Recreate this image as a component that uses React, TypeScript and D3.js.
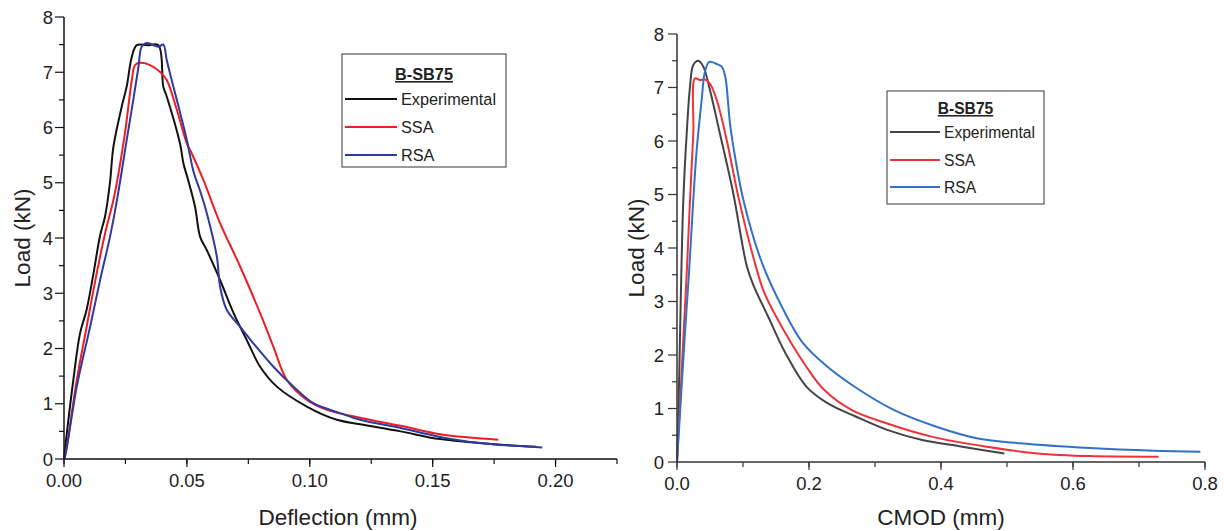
import React from "react";
import * as d3 from "d3";

type P = [number, number];

// Left chart: Load vs Deflection
const leftExperimental: P[] = [[0,0],[0.0015,0.6],[0.0038,1.43],[0.0065,2.27],[0.0092,2.7],[0.012,3.36],[0.0147,4.05],[0.0167,4.39],[0.0187,5.0],[0.0201,5.65],[0.0235,6.38],[0.0255,6.74],[0.0276,7.28],[0.0296,7.49],[0.034,7.49],[0.0384,7.49],[0.0404,6.74],[0.0418,6.56],[0.0472,5.71],[0.0486,5.35],[0.0505,5.05],[0.0533,4.57],[0.0554,4.02],[0.0581,3.78],[0.0635,3.24],[0.069,2.64],[0.0744,2.15],[0.0798,1.67],[0.0866,1.31],[0.0988,0.95],[0.111,0.71],[0.1205,0.63],[0.137,0.5],[0.153,0.36],[0.1775,0.26],[0.192,0.22]];
const leftSSA: P[] = [[0,0],[0.0011,0.22],[0.0052,1.43],[0.0092,2.39],[0.0133,3.36],[0.0167,4.08],[0.0204,4.75],[0.0248,5.9],[0.0276,6.86],[0.0289,7.13],[0.031,7.17],[0.035,7.13],[0.039,7.01],[0.0418,6.86],[0.0459,6.32],[0.05,5.71],[0.052,5.53],[0.0567,5.05],[0.0635,4.27],[0.0717,3.48],[0.0798,2.64],[0.0852,2.03],[0.0907,1.43],[0.0988,1.07],[0.107,0.89],[0.12,0.75],[0.137,0.6],[0.153,0.45],[0.165,0.39],[0.1767,0.35]];
const leftRSA: P[] = [[0,0],[0.0004,0.04],[0.0052,1.31],[0.0106,2.39],[0.0147,3.24],[0.0187,4.02],[0.0218,4.75],[0.0255,5.77],[0.0282,6.5],[0.0303,7.1],[0.0316,7.46],[0.0337,7.53],[0.0364,7.49],[0.0384,7.46],[0.0404,7.5],[0.0418,7.22],[0.0438,6.86],[0.0459,6.5],[0.05,5.77],[0.0527,5.2],[0.0554,4.85],[0.0581,4.45],[0.0622,3.66],[0.0635,3.12],[0.0662,2.7],[0.0717,2.39],[0.0771,2.09],[0.0852,1.67],[0.0934,1.31],[0.1015,1.01],[0.1124,0.83],[0.1205,0.71],[0.137,0.56],[0.153,0.4],[0.169,0.29],[0.1946,0.21]];

// Right chart: Load vs CMOD
const rightExperimental: P[] = [[0,0],[0.002,0.8],[0.004,2.0],[0.0065,3.5],[0.0096,4.9],[0.0147,6.14],[0.0197,7.01],[0.0247,7.42],[0.0323,7.5],[0.0399,7.39],[0.05,6.95],[0.065,6.14],[0.0853,5.02],[0.106,3.65],[0.1167,3.28],[0.138,2.72],[0.1646,2.03],[0.196,1.41],[0.228,1.1],[0.2706,0.85],[0.3185,0.6],[0.3715,0.41],[0.43,0.29],[0.496,0.16]];
const rightSSA: P[] = [[0,0],[0.005,1.2],[0.01,2.4],[0.015,3.6],[0.0197,4.9],[0.0247,6.14],[0.0273,7.17],[0.0348,7.14],[0.0424,7.15],[0.05,7.07],[0.0601,6.77],[0.0753,6.02],[0.0929,4.96],[0.1167,3.78],[0.1327,3.15],[0.1646,2.4],[0.196,1.78],[0.2228,1.35],[0.265,0.97],[0.3185,0.72],[0.387,0.47],[0.467,0.29],[0.5467,0.16],[0.626,0.11],[0.7297,0.1]];
const rightRSA: P[] = [[0,0],[0.006,1.2],[0.012,2.4],[0.018,3.5],[0.0247,4.9],[0.0298,5.83],[0.0374,6.77],[0.0424,7.3],[0.049,7.48],[0.0601,7.44],[0.0677,7.39],[0.0727,7.23],[0.0753,7.01],[0.0803,6.33],[0.0879,5.71],[0.1005,4.9],[0.127,3.78],[0.159,2.9],[0.191,2.22],[0.228,1.78],[0.276,1.35],[0.329,0.97],[0.393,0.66],[0.456,0.44],[0.5197,0.35],[0.626,0.26],[0.7217,0.21],[0.793,0.19]];

const seriesNames = ["Experimental", "SSA", "RSA"];
const legendTitle = "B-SB75";
const leftXTicks = [0, 0.05, 0.1, 0.15, 0.2];
const rightXTicks = [0, 0.2, 0.4, 0.6, 0.8];
const yTicks = [0, 1, 2, 3, 4, 5, 6, 7, 8];

const FONT = "'Liberation Sans', Arial, sans-serif";

interface PanelProps {
  x0: number; x1: number; y0: number; y1: number;
  xDomain: [number, number];
  xTicks: number[]; xMinorStep: number; xFmt: (v: number) => string;
  xTitle: string; xTitleX: number;
  yTitleX: number; yLabelGap: number;
  data: P[][]; colors: string[];
  axisColor: string; legendFont: number;
  legend: { x: number; y: number; w: number; h: number; titleY: number; rowY: number[]; lineX0: number; lineX1: number; textX: number };
}

function Panel(p: PanelProps) {
  const xs = d3.scaleLinear().domain(p.xDomain).range([p.x0, p.x1]);
  const ys = d3.scaleLinear().domain([0, 8]).range([p.y0, p.y1]);
  const line = d3.line<P>().x(d => xs(d[0])).y(d => ys(d[1])).curve(d3.curveCatmullRom.alpha(0.5));
  const minorX: number[] = [];
  for (let v = 0; v <= p.xDomain[1] + 1e-9; v += p.xMinorStep) minorX.push(+v.toFixed(4));
  const minorY: number[] = [];
  for (let v = 0.5; v < 8; v += 1) minorY.push(v);
  const L = p.legend;
  return (
    <g>
      {p.data.map((d, i) => (
        <path key={i} d={line(d) || ""} fill="none" stroke={p.colors[i]} strokeWidth={2} strokeLinejoin="round" />
      ))}
      <line x1={p.x0} x2={p.x1} y1={p.y0} y2={p.y0} stroke={p.axisColor} strokeWidth={1.5} />
      <line x1={p.x0} x2={p.x0} y1={p.y0} y2={p.y1} stroke={p.axisColor} strokeWidth={1.5} />
      {minorX.map((v, i) => (
        <line key={"mx" + i} x1={xs(v)} x2={xs(v)} y1={p.y0} y2={p.y0 + 5} stroke={p.axisColor} strokeWidth={1.2} />
      ))}
      {p.xTicks.map((v, i) => (
        <g key={"xt" + i}>
          <line x1={xs(v)} x2={xs(v)} y1={p.y0} y2={p.y0 + 8} stroke={p.axisColor} strokeWidth={1.2} />
          <text x={xs(v)} y={p.y0 + 28} textAnchor="middle" fontSize={18.5} fontFamily={FONT} fill="#222">{p.xFmt(v)}</text>
        </g>
      ))}
      {minorY.map((v, i) => (
        <line key={"my" + i} x1={p.x0 - 5} x2={p.x0} y1={ys(v)} y2={ys(v)} stroke={p.axisColor} strokeWidth={1.2} />
      ))}
      {yTicks.map((v, i) => (
        <g key={"yt" + i}>
          <line x1={p.x0 - 9} x2={p.x0} y1={ys(v)} y2={ys(v)} stroke={p.axisColor} strokeWidth={1.2} />
          <text x={p.x0 - p.yLabelGap} y={ys(v) + 6.5} textAnchor="end" fontSize={18.5} fontFamily={FONT} fill="#222">{v}</text>
        </g>
      ))}
      <text x={p.xTitleX} y={525} textAnchor="middle" fontSize={22.5} fontFamily={FONT} fill="#222">{p.xTitle}</text>
      <text transform={`translate(${p.yTitleX},${(p.y0 + p.y1) / 2}) rotate(-90)`} textAnchor="middle" fontSize={22.5} fontFamily={FONT} fill="#222">Load (kN)</text>
      <rect x={L.x} y={L.y} width={L.w} height={L.h} fill="white" stroke="#555" strokeWidth={1.2} />
      <text x={L.x + L.w / 2} y={L.titleY} textAnchor="middle" fontSize={p.legendFont} fontWeight="bold" fontFamily={FONT} fill="#222" textDecoration="underline">{legendTitle}</text>
      {seriesNames.map((n, i) => (
        <g key={"lg" + i}>
          <line x1={L.lineX0} x2={L.lineX1} y1={L.rowY[i]} y2={L.rowY[i]} stroke={p.colors[i]} strokeWidth={2} />
          <text x={L.textX} y={L.rowY[i] + 6} fontSize={p.legendFont} fontFamily={FONT} fill="#222">{n}</text>
        </g>
      ))}
    </g>
  );
}

export default function App() {
  return (
    <svg width={1224} height={531} style={{ position: "absolute", left: 0, top: 0, background: "white" }}>
      <Panel
        x0={64} x1={617} y0={459} y1={17}
        xDomain={[0, 0.225]} xTicks={leftXTicks} xMinorStep={0.025}
        xFmt={d3.format(".2f")} xTitle="Deflection (mm)" xTitleX={338} yTitleX={30} yLabelGap={11}
        data={[leftExperimental, leftSSA, leftRSA]}
        colors={["#111111", "#ee1c24", "#2e3a9e"]}
        axisColor="#111" legendFont={16.3}
        legend={{ x: 342, y: 54, w: 164, h: 113, titleY: 80, rowY: [99, 127, 155], lineX0: 345, lineX1: 397, textX: 401 }}
      />
      <Panel
        x0={677} x1={1205} y0={462} y1={34}
        xDomain={[0, 0.8]} xTicks={rightXTicks} xMinorStep={0.1}
        xFmt={d3.format(".1f")} xTitle="CMOD (mm)" xTitleX={941} yTitleX={644} yLabelGap={13}
        data={[rightExperimental, rightSSA, rightRSA]}
        colors={["#444444", "#ee3338", "#3370c8"]}
        axisColor="#333" legendFont={15.6}
        legend={{ x: 887, y: 91, w: 157, h: 113, titleY: 114, rowY: [132, 160, 187], lineX0: 890, lineX1: 940, textX: 944 }}
      />
    </svg>
  );
}
